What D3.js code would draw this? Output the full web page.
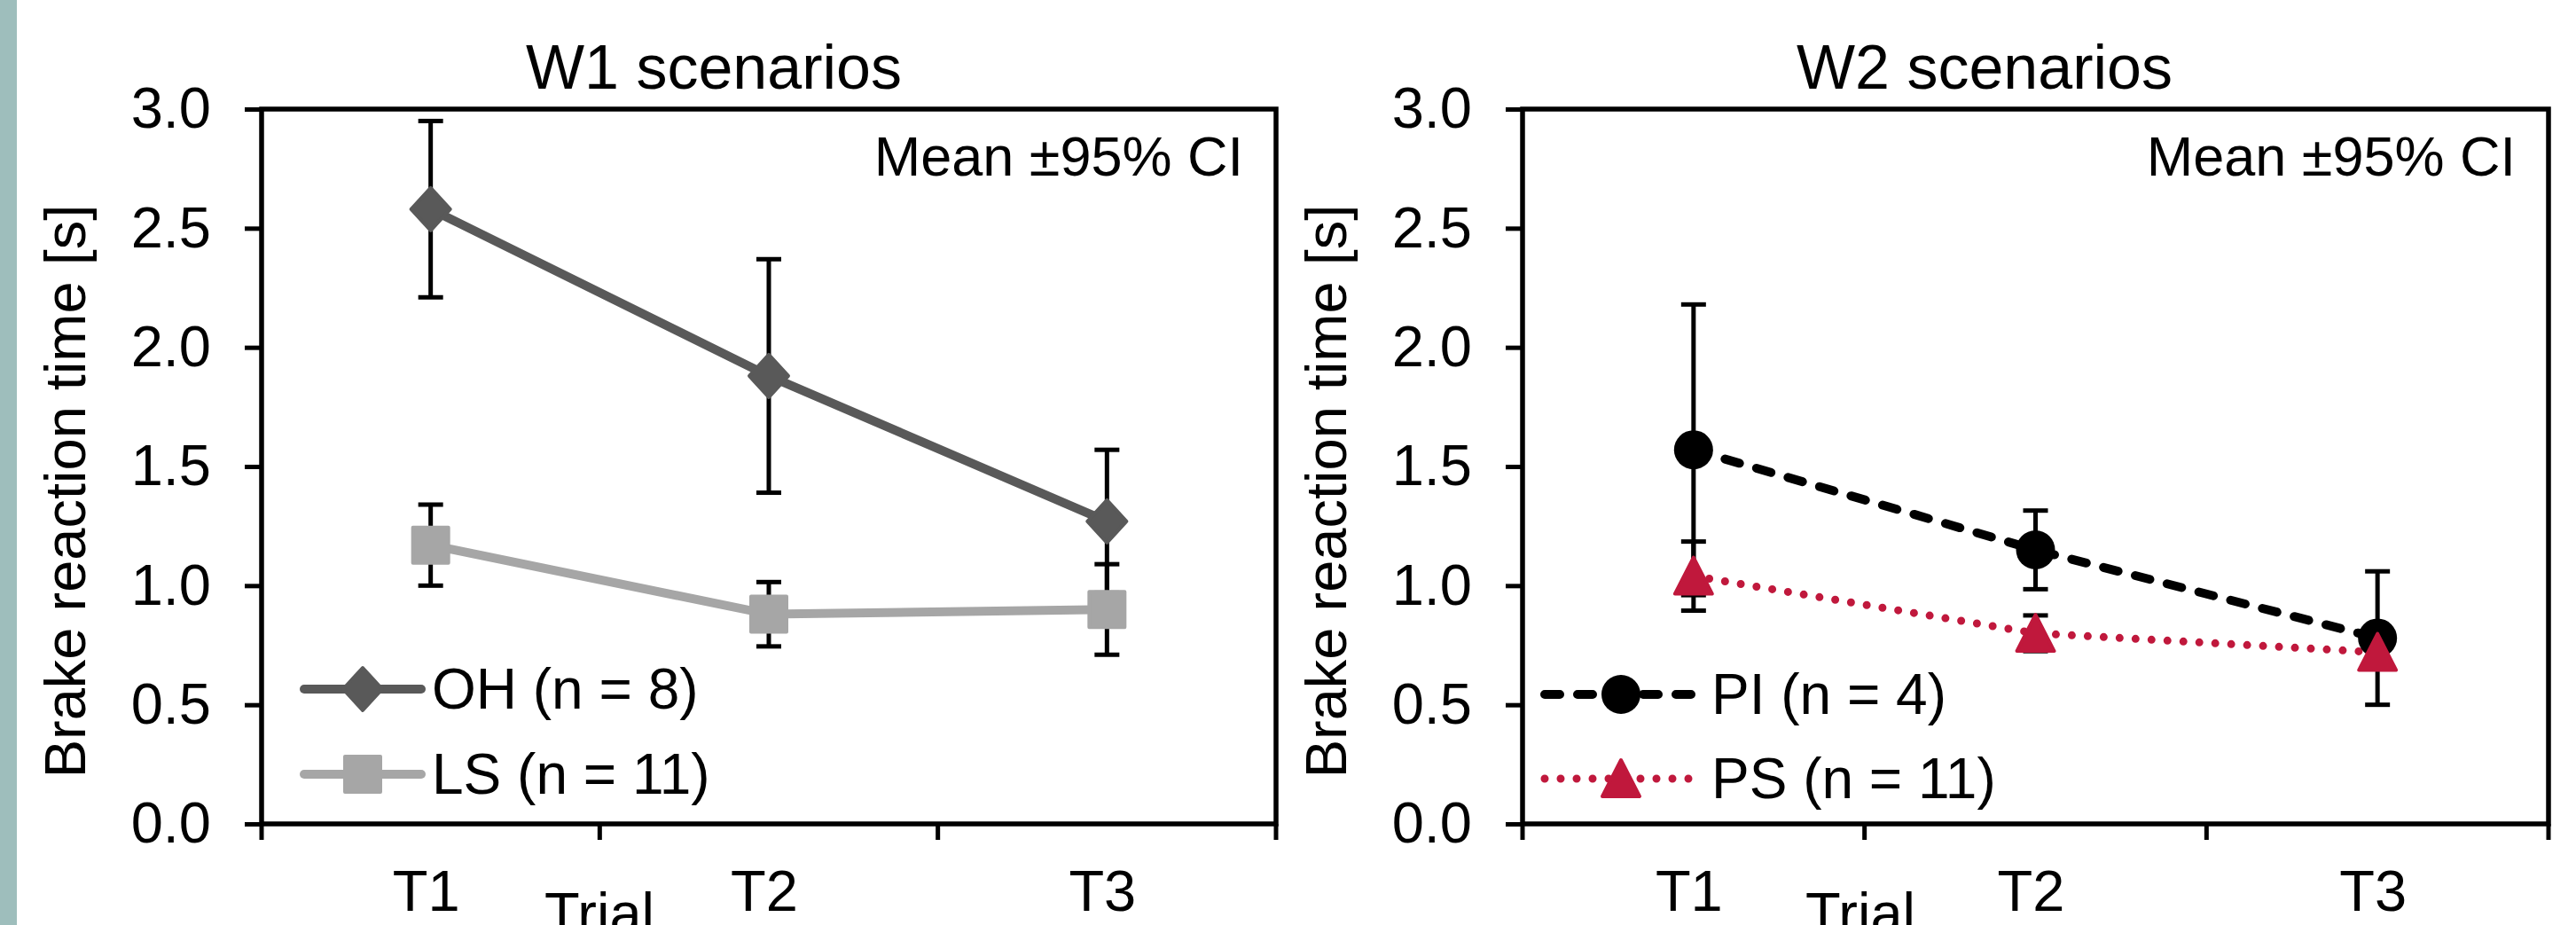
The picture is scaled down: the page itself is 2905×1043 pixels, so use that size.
<!DOCTYPE html>
<html>
<head>
<meta charset="utf-8">
<script src="https://cdn.jsdelivr.net/npm/d3@7"></script>
<style>
    body { margin: 0; background: #fff; }
    svg { display: block; }
    text { font-family: "Liberation Sans", Arial, sans-serif; fill: #000; }
</style>
</head>
<body>
<svg id="chart" width="2905" height="1043"></svg>
<script>
// Trials on the x axis
const trials = ["T1", "T2", "T3"];
const yTicks = [0, 0.5, 1.0, 1.5, 2.0, 2.5, 3.0];

// W1 scenarios: means and 95% CI half-widths
const ohMean = [2.58, 1.88, 1.27];
const ohCi = [0.37, 0.49, 0.30];
const lsMean = [1.17, 0.88, 0.90];
const lsCi = [0.17, 0.135, 0.19];

// W2 scenarios
const piMean = [1.57, 1.15, 0.78];
const piCi = [0.61, 0.165, 0.28];
const psMean = [1.04, 0.80, 0.72];
const psCi = [0.145, 0.075, 0.06];

const svg = d3.select("#chart");
const plotTop = 123, plotBottom = 929;

// teal strip at the left page edge
svg.append("rect").attr("x", 0).attr("y", 0).attr("width", 19).attr("height", 1043).attr("fill", "#9ebebc");

const panels = [
    {
        left: 295, right: 1439, title: "W1 scenarios", titleX: 805,
        series: [
            { name: "OH (n = 8)", mean: ohMean, ci: ohCi, color: "#595959", width: 10, dash: null, marker: "diamond" },
            { name: "LS (n = 11)", mean: lsMean, ci: lsCi, color: "#a6a6a6", width: 10, dash: null, marker: "square" }
        ],
        legend: { x0: 343, x1: 475, mx: 409, tx: 487, ys: [777, 873] }
    },
    {
        left: 1717, right: 2874, title: "W2 scenarios", titleX: 2238,
        series: [
            { name: "PI (n = 4)", mean: piMean, ci: piCi, color: "#000000", width: 10, dash: "17 20", marker: "circle" },
            { name: "PS (n = 11)", mean: psMean, ci: psCi, color: "#c0183c", width: 9, dash: "0 18", marker: "triangle" }
        ],
        legend: { x0: 1742, x1: 1914, mx: 1828, tx: 1930, ys: [783, 878] }
    }
];

function markerPath(type) {
    if (type === "diamond") return "M0,-24L22,0L0,24L-22,0Z";
    if (type === "square") return "M-20,-20H20V20H-20Z";
    if (type === "triangle") return "M0,-21L21,20L-21,20Z";
    return d3.arc()({ innerRadius: 0, outerRadius: 22, startAngle: 0, endAngle: 2 * Math.PI });
}

function drawMarker(g, type, color, x, y) {
    g.append("path")
        .attr("d", markerPath(type))
        .attr("transform", `translate(${x},${y})`)
        .attr("fill", color)
        .attr("stroke", color)
        .attr("stroke-width", type === "circle" ? 0 : 4)
        .attr("stroke-linejoin", "round");
}

panels.forEach(p => {
    const g = svg.append("g");

    const x = d3.scaleBand().domain(trials).range([p.left, p.right]).padding(0);
    const y = d3.scaleLinear().domain([0, 3]).range([plotBottom, plotTop]);

    // y axis with ticks
    const yAxis = g.append("g")
        .attr("transform", `translate(${p.left},0)`)
        .call(d3.axisLeft(y).tickValues(yTicks).tickSize(19).tickPadding(38).tickFormat(d3.format(".1f")));
    yAxis.select(".domain").remove();
    yAxis.selectAll(".tick line").attr("stroke", "#000").attr("stroke-width", 5);
    yAxis.selectAll(".tick text").style("font-size", "65px").attr("font-family", null);

    // category boundary ticks below the x axis
    const bounds = trials.map(t => x(t)).concat([p.right]);
    g.selectAll(".xtick").data(bounds).enter().append("line")
        .attr("x1", d => d).attr("x2", d => d)
        .attr("y1", plotBottom).attr("y2", plotBottom + 18)
        .attr("stroke", "#000").attr("stroke-width", 5);

    // category labels
    g.selectAll(".xlab").data(trials).enter().append("text")
        .attr("x", d => x(d) + x.bandwidth() / 2 - 5)
        .attr("y", 1027)
        .attr("text-anchor", "middle")
        .style("font-size", "65px")
        .text(d => d);

    // plot box
    g.append("rect")
        .attr("x", p.left).attr("y", plotTop)
        .attr("width", p.right - p.left).attr("height", plotBottom - plotTop)
        .attr("fill", "none").attr("stroke", "#000").attr("stroke-width", 5.5);

    // titles
    g.append("text").attr("x", p.titleX).attr("y", 100).attr("text-anchor", "middle")
        .style("font-size", "70px").text(p.title);
    g.append("text").attr("x", p.right - 37).attr("y", 198).attr("text-anchor", "end")
        .style("font-size", "63px").text("Mean \u00b195% CI");
    g.append("text")
        .attr("transform", `translate(${p.left - 199},554) rotate(-90)`)
        .attr("text-anchor", "middle")
        .style("font-size", "65px")
        .text("Brake reaction time [s]");
    g.append("text").attr("x", p.left + 381).attr("y", 1052).attr("text-anchor", "middle")
        .style("font-size", "65px").text("Trial");

    const cx = d => x(d) + x.bandwidth() / 2;

    // lines
    p.series.forEach(s => {
        const line = d3.line().x((d, i) => cx(trials[i])).y(d => y(d));
        g.append("path")
            .datum(s.mean)
            .attr("d", line)
            .attr("fill", "none")
            .attr("stroke", s.color)
            .attr("stroke-width", s.width)
            .attr("stroke-linecap", "round")
            .attr("stroke-dasharray", s.dash);
    });

    // error bars and markers, series by series
    p.series.forEach(s => {
        s.mean.forEach((m, i) => {
            const xc = cx(trials[i]);
            const lo = y(m - s.ci[i]), hi = y(m + s.ci[i]);
            g.append("line").attr("x1", xc).attr("x2", xc).attr("y1", lo).attr("y2", hi)
                .attr("stroke", "#000").attr("stroke-width", 5);
            [lo, hi].forEach(v => {
                g.append("line").attr("x1", xc - 14).attr("x2", xc + 14).attr("y1", v).attr("y2", v)
                    .attr("stroke", "#000").attr("stroke-width", 5);
            });
        });
        s.mean.forEach((m, i) => drawMarker(g, s.marker, s.color, cx(trials[i]), y(m)));
    });

    // legend
    p.series.forEach((s, i) => {
        const ly = p.legend.ys[i];
        g.append("line")
            .attr("x1", p.legend.x0).attr("x2", p.legend.x1)
            .attr("y1", ly).attr("y2", ly)
            .attr("stroke", s.color).attr("stroke-width", s.width)
            .attr("stroke-linecap", "round")
            .attr("stroke-dasharray", s.dash);
        drawMarker(g, s.marker, s.color, p.legend.mx, ly);
        g.append("text").attr("x", p.legend.tx).attr("y", ly + 22)
            .style("font-size", "64px").text(s.name);
    });
});
</script>
</body>
</html>
